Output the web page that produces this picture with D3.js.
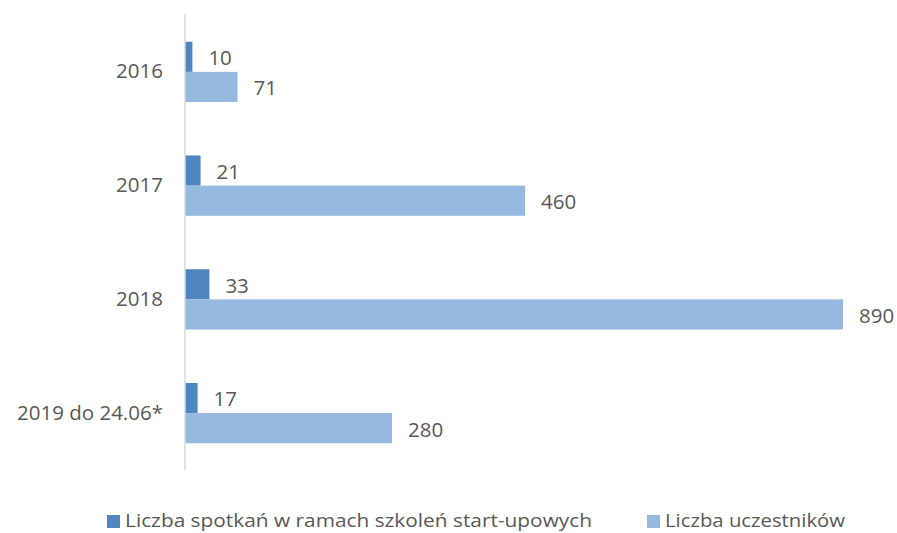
<!DOCTYPE html>
<html>
<head>
<meta charset="utf-8">
<script src="https://cdn.jsdelivr.net/npm/d3@7"></script>
<style>
  body { margin: 0; background: #fff; }
  text { font-family: "Open Sans", sans-serif; fill: #595959; }
</style>
</head>
<body>
<script>
// chart data
var categories = ["2016", "2017", "2018", "2019 do 24.06*"];
var meetings = [10, 21, 33, 17];
var participants = [71, 460, 890, 280];
var seriesNames = ["Liczba spotkań w ramach szkoleń start-upowych", "Liczba uczestników"];
var colors = ["#4f86bf", "#96b9df"];

var width = 897,
    height = 533;

var svg = d3.select("body")
    .append("svg")
    .attr("width", width)
    .attr("height", height);

//scales
var x = d3.scaleLinear()
    .domain([0, 890])
    .range([185, 843]);

var y = d3.scaleBand()
    .domain(categories)
    .range([15, 470])
    .paddingInner(0.47)
    .paddingOuter(0.235);

var sub = d3.scaleBand()
    .domain([0, 1])
    .range([0, y.bandwidth()]);

var rows = categories.map(function(c, i){
    return { cat: c, values: [meetings[i], participants[i]] };
});

var groups = svg.selectAll(".group")
    .data(rows)
    .enter()
    .append("g")
    .attr("class", "group")
    .attr("transform", function(d){ return "translate(0," + y(d.cat) + ")"; });

groups.selectAll("rect")
    .data(function(d){ return d.values; })
    .enter()
    .append("rect")
    .attr("x", x(0))
    .attr("y", function(d, i){ return sub(i); })
    .attr("width", function(d){ return x(d) - x(0); })
    .attr("height", sub.bandwidth())
    .attr("fill", function(d, i){ return colors[i]; });

groups.selectAll(".val")
    .data(function(d){ return d.values; })
    .enter()
    .append("text")
    .attr("class", "val")
    .attr("x", function(d){ return x(d) + 16; })
    .attr("y", function(d, i){ return sub(i) + sub.bandwidth() / 2 + 1; })
    .attr("dy", "0.36em")
    .style("font-size", "20.5px")
    .text(function(d){ return d; });

//category axis
var axis = svg.append("g")
    .attr("transform", "translate(" + x(0) + ",0)")
    .call(d3.axisLeft(y).tickSize(0).tickPadding(22));

axis.select(".domain")
    .attr("stroke", "#d9d9d9")
    .attr("stroke-width", 1.5)
    .attr("d", "M0,14V470");

axis.selectAll("text")
    .style("font-size", "20.5px")
    .style("font-family", "Open Sans, sans-serif")
    .style("fill", "#595959");

//legend
var legendX = [107, 647];
var legendW = [467, 180];
var legend = svg.selectAll(".legend")
    .data(seriesNames)
    .enter()
    .append("g")
    .attr("class", "legend")
    .attr("transform", function(d, i){ return "translate(" + legendX[i] + ",515)"; });

legend.append("rect")
    .attr("x", 0)
    .attr("y", 0)
    .attr("width", 13)
    .attr("height", 13)
    .attr("fill", function(d, i){ return colors[i]; });

legend.append("text")
    .attr("x", 18)
    .attr("y", 12)
    .style("font-size", "18px")
    .attr("textLength", function(d, i){ return legendW[i]; })
    .attr("lengthAdjust", "spacingAndGlyphs")
    .text(function(d){ return d; });
</script>
</body>
</html>
